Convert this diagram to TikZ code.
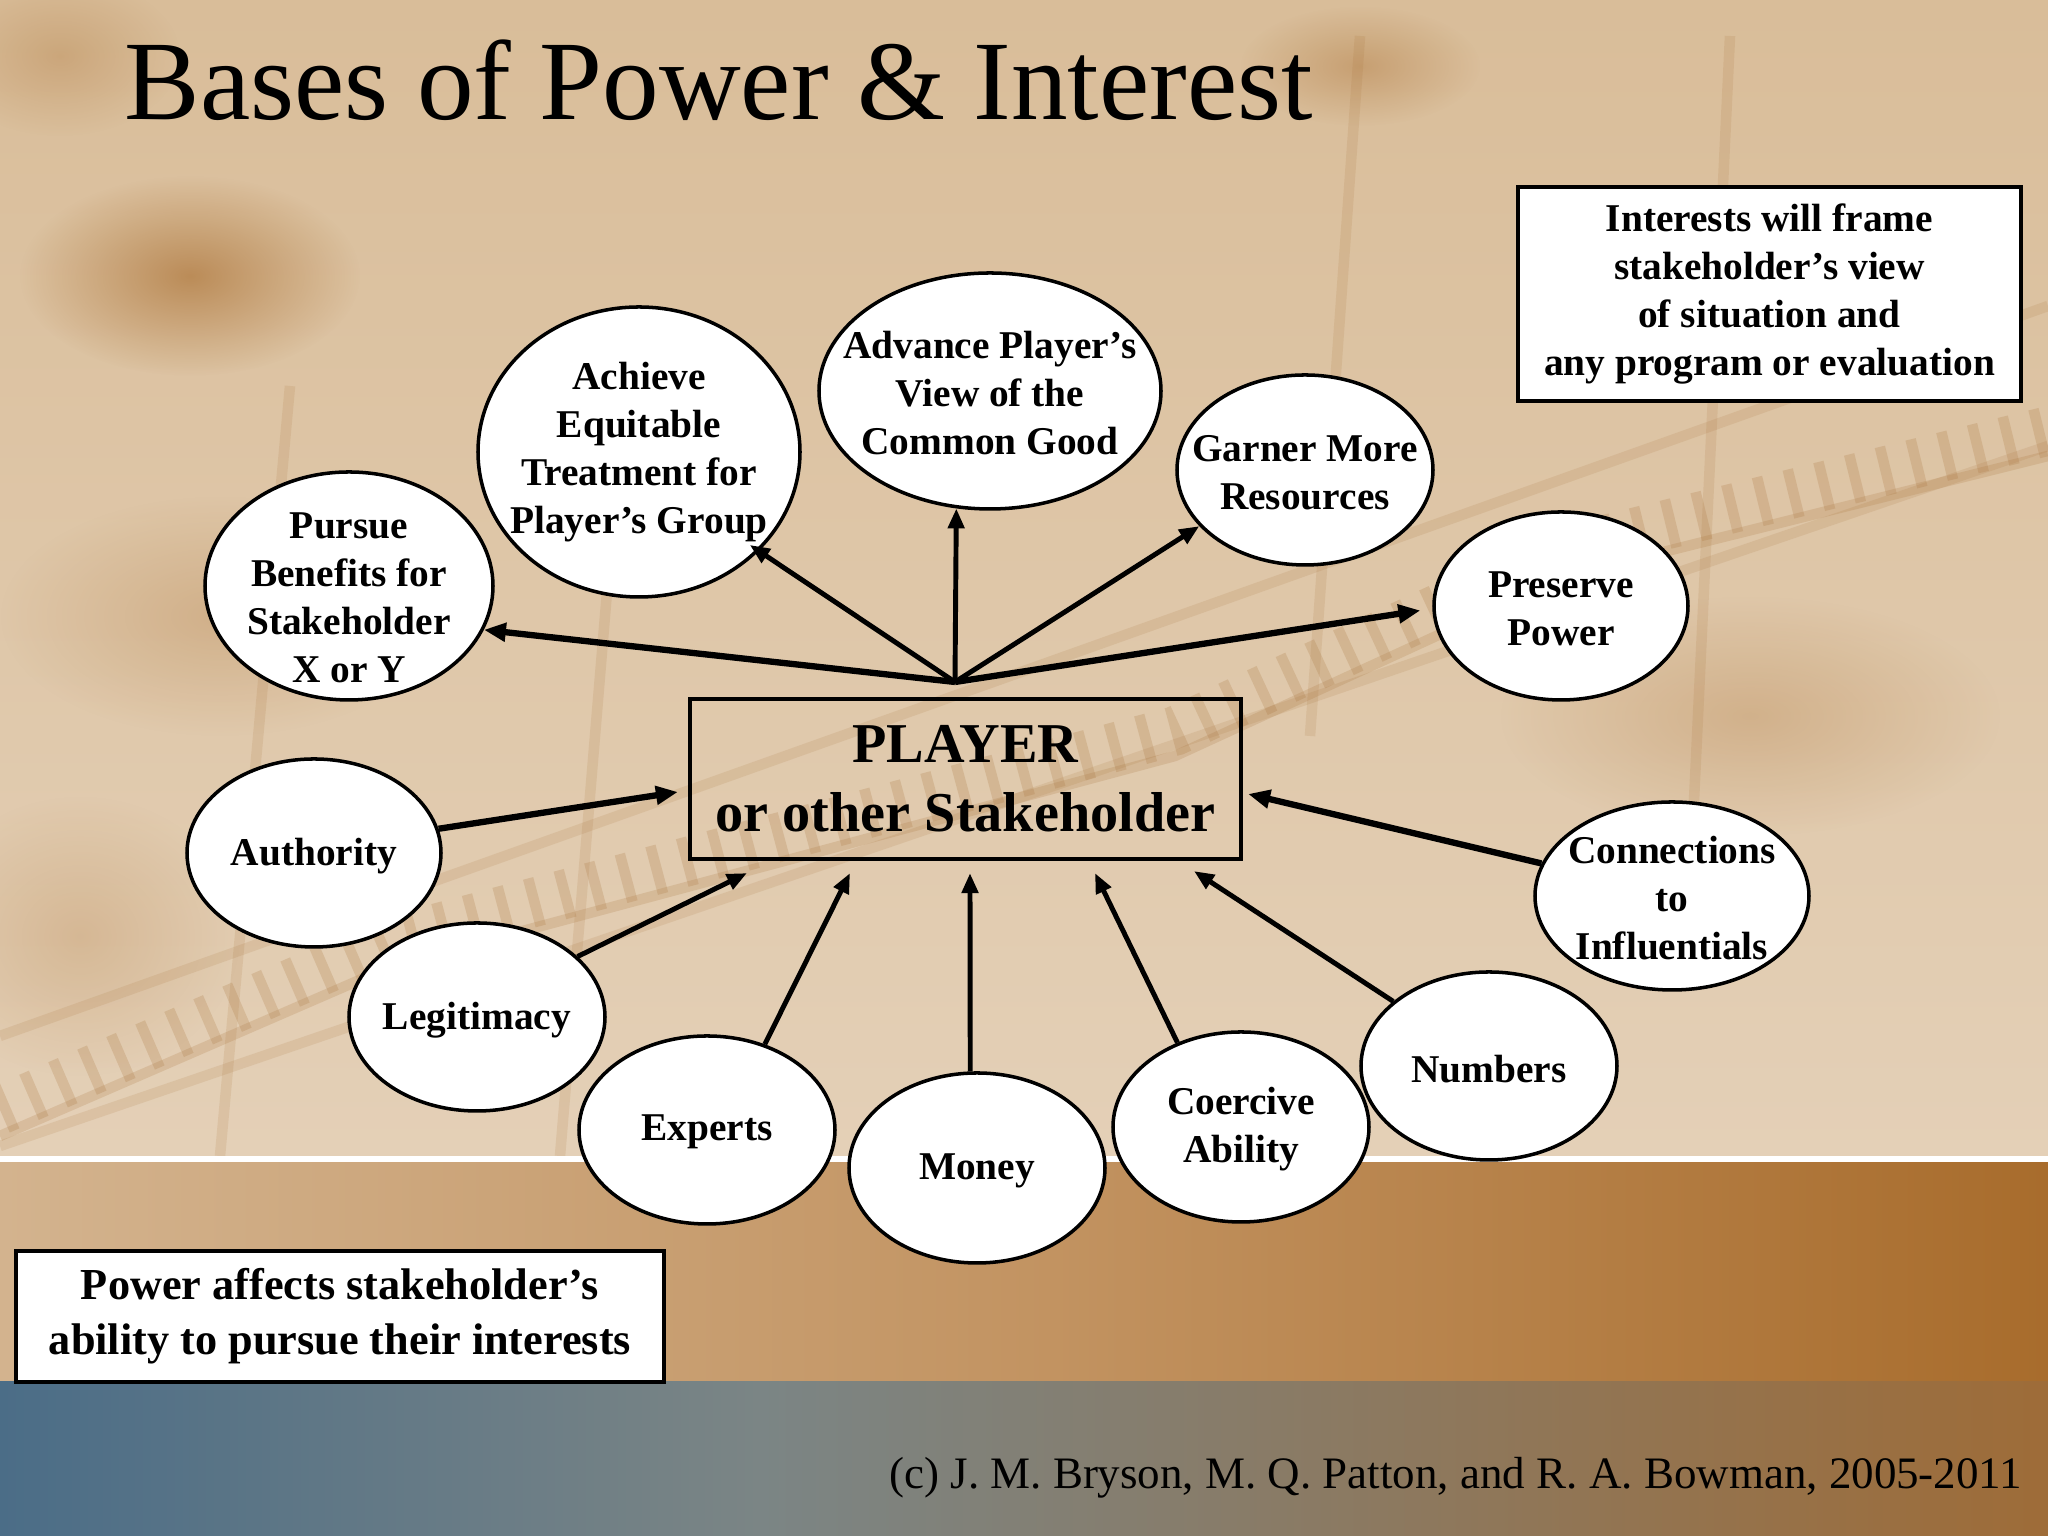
\documentclass[tikz,border=0pt]{standalone}
\usepackage{fontspec}
\setmainfont{Liberation Serif}
\usetikzlibrary{shapes.geometric,arrows.meta,calc,fadings}
\definecolor{bgbeige}{HTML}{DCC3A3}
\definecolor{bgtop}{HTML}{D9BD99}
\definecolor{bglow}{HTML}{E4D0B7}
\definecolor{blobbrown}{HTML}{B07A40}
\definecolor{chartbrown}{HTML}{A8733A}
\definecolor{lowleft}{HTML}{D3B38E}
\definecolor{lowmid}{HTML}{C29361}
\definecolor{lowright}{HTML}{A86C2C}
\definecolor{bandblue}{HTML}{4B6D87}
\definecolor{bandgrey}{HTML}{7B8585}
\definecolor{bandbrown}{HTML}{9E6C38}
\tikzfading[name=softblob, inner color=transparent!0, outer color=transparent!100]
\begin{document}
\begin{tikzpicture}[x=1cm,y=1cm,
  bub/.style={ellipse, draw=black, line width=1pt, fill=white, inner sep=0pt},
  btxt/.style={align=center, inner sep=0pt, font=\bfseries\fontsize{11.2}{13.6}\selectfont},
  arr/.style={line width=1.4pt, -{Triangle[length=0.2cm,width=0.16cm]}},
  arrb/.style={line width=1.8pt, -{Triangle[length=0.22cm,width=0.18cm]}},
  blob/.style={fill=blobbrown, path fading=softblob}
]
\useasboundingbox (0,0) rectangle (20.48,15.36);

% ---------- background ----------
\shade[top color=bgtop, bottom color=bglow] (0,3.77) rectangle (20.48,15.36);
\fill[blob, fill opacity=0.75] (1.9,12.6) ellipse (1.7 and 1.0);
\fill[blob, fill opacity=0.45] (13.6,14.7) ellipse (1.2 and 0.6);
\fill[blob, fill opacity=0.35] (0.6,14.8) ellipse (1.2 and 0.8);
\fill[blob, fill opacity=0.30] (2.2,9.2) ellipse (2.2 and 1.2);
\fill[blob, fill opacity=0.25] (0.8,6.0) ellipse (1.6 and 1.4);
\fill[blob, fill opacity=0.30] (17.5,8.2) ellipse (2.5 and 1.2);
% faint chart grid
\begin{scope}[draw=chartbrown, line width=3pt, opacity=0.15]
  \draw (2.2,3.8) -- (2.9,11.5);
  \draw (5.6,3.8) -- (6.2,11.0);
  \draw (13.1,8.0) -- (13.6,15.0);
  \draw (16.9,6.5) -- (17.3,15.0);
  \draw (0,5.0) -- (20.48,12.3);
  \draw (0,3.9) -- (20.48,10.9);
\end{scope}
% chart bars
\begin{scope}[opacity=0.22]
  \draw[chartbrown, line width=14pt, dash pattern=on 3pt off 6pt]
    (0,4.26) -- (3.92,5.96) -- (7.84,7.00) -- (11.75,8.05) -- (15.67,9.87) -- (20.48,11.05);
\end{scope}
\begin{scope}[opacity=0.20]
  \draw[chartbrown, line width=3pt]
    (0,4.0) -- (3.92,5.70) -- (7.84,6.75) -- (11.75,7.80) -- (15.67,9.60) -- (20.48,10.80);
\end{scope}
% lower strip
\shade[left color=lowleft, right color=lowmid] (0,1.54) rectangle (10.5,3.77);
\shade[left color=lowmid, right color=lowright] (10.5,1.54) rectangle (20.48,3.77);
\fill[white] (0,3.735) rectangle (20.48,3.795);
% bottom band
\shade[left color=bandblue, right color=bandgrey] (0,0) rectangle (7.6,1.54);
\shade[left color=bandgrey, right color=bandbrown] (7.6,0) rectangle (20.48,1.54);

% ---------- title and footer ----------
\node[anchor=base west, inner sep=0pt, font=\fontsize{32.2}{38}\selectfont] (title) at (1.24,14.16) {Bases of Power \& Interest};
\node[anchor=base east, inner sep=0pt, font=\fontsize{12.8}{15}\selectfont] (copyr) at (20.23,0.47) {(c) J. M. Bryson, M. Q. Patton, and R. A. Bowman, 2005-2011};

% ---------- boxes ----------
\node[draw=black, line width=1.2pt, minimum width=5.51cm, minimum height=1.60cm, inner sep=0pt,
      align=center, font=\bfseries\fontsize{16}{19.5}\selectfont] (player) at (9.655,7.57)
      {PLAYER\\or other Stakeholder};
\node[draw=black, fill=white, line width=1.1pt, minimum width=5.03cm, minimum height=2.14cm, inner sep=0pt,
      align=center, font=\bfseries\fontsize{11.2}{13.6}\selectfont] (interests) at (17.695,12.42)
      {Interests will frame\\stakeholder’s view\\of situation and\\any program or evaluation};
\node[draw=black, fill=white, line width=1.3pt, minimum width=6.48cm, minimum height=1.31cm, inner sep=0pt,
      align=center, font=\bfseries\fontsize{12.6}{15.6}\selectfont] (powerbox) at (3.40,2.195)
      {Power affects stakeholder’s\\ability to pursue their interests};

% ---------- ellipses ----------
\node[bub, minimum width=2.88cm, minimum height=2.28cm] (pursue) at (3.49,9.50) {};
\node[bub, minimum width=3.22cm, minimum height=2.90cm] (achieve) at (6.39,10.84) {};
\node[bub, minimum width=3.42cm, minimum height=2.36cm] (advance) at (9.90,11.45) {};
\node[bub, minimum width=2.56cm, minimum height=1.90cm] (garner) at (13.05,10.66) {};
\node[bub, minimum width=2.54cm, minimum height=1.88cm] (preserve) at (15.61,9.30) {};
\node[bub, minimum width=2.54cm, minimum height=1.88cm] (authority) at (3.14,6.83) {};
\node[bub, minimum width=2.56cm, minimum height=1.88cm] (legit) at (4.77,5.19) {};
\node[bub, minimum width=2.56cm, minimum height=1.88cm] (experts) at (7.07,4.06) {};
\node[bub, minimum width=2.56cm, minimum height=1.90cm] (money) at (9.77,3.68) {};
\node[bub, minimum width=2.56cm, minimum height=1.90cm] (coercive) at (12.41,4.09) {};
\node[bub, minimum width=2.56cm, minimum height=1.88cm] (numbers) at (14.89,4.70) {};
\node[bub, minimum width=2.74cm, minimum height=1.88cm] (connections) at (16.72,6.40) {};

\node[btxt] (pursue-t) at ([yshift=-0.12cm]pursue.center) {Pursue\\Benefits for\\Stakeholder\\X or Y};
\node[btxt] (achieve-t) at (achieve.center) {Achieve\\Equitable\\Treatment for\\Player’s Group};
\node[btxt] (advance-t) at ([yshift=-0.02cm]advance.center) {Advance Player’s\\View of the\\Common Good};
\node[btxt] (garner-t) at ([yshift=-0.03cm]garner.center) {Garner More\\Resources};
\node[btxt] (preserve-t) at ([yshift=-0.03cm]preserve.center) {Preserve\\Power};
\node[btxt] (authority-t) at ([yshift=-0.03cm]authority.center) {Authority};
\node[btxt] (legit-t) at ([yshift=-0.03cm]legit.center) {Legitimacy};
\node[btxt] (experts-t) at ([yshift=-0.02cm]experts.center) {Experts};
\node[btxt] (money-t) at ([yshift=-0.03cm]money.center) {Money};
\node[btxt] (coercive-t) at ([yshift=-0.02cm]coercive.center) {Coercive\\Ability};
\node[btxt] (numbers-t) at ([yshift=-0.03cm]numbers.center) {Numbers};
\node[btxt] (connections-t) at ([yshift=-0.02cm]connections.center) {Connections\\to\\Influentials};

% ---------- outgoing arrows ----------
\coordinate (hub) at (9.55,8.54);
\draw[arrb] (hub) -- (pursue.-18);
\draw[arr] (hub) -- ($(achieve.center)!0.93!(achieve.-40)$);
\draw[arr] (hub) -- (advance.-106);
\draw[arr] (hub) -- (garner.-152);
\draw[arrb] (hub) -- ([xshift=-0.12cm]preserve.-178);

% ---------- incoming arrows ----------
\draw[arrb] (authority.11) -- ($(player.west)+(-0.10,-0.13)$);
\draw[arr] (legit.31) -- ($(player.south)+(-2.185,-0.12)$);
\draw[arr] (experts.56) -- ($(player.south)+(-1.155,-0.12)$);
\draw[arr] (money.94) -- ($(player.south)+(0.045,-0.12)$);
\draw[arr] (coercive.127) -- ($(player.south)+(1.295,-0.12)$);
\draw[arr] (numbers.146) -- ($(player.south)+(2.285,-0.10)$);
\draw[arrb] (connections.166) -- ($(player.east)+(0.05,-0.15)$);
\end{tikzpicture}
\end{document}
